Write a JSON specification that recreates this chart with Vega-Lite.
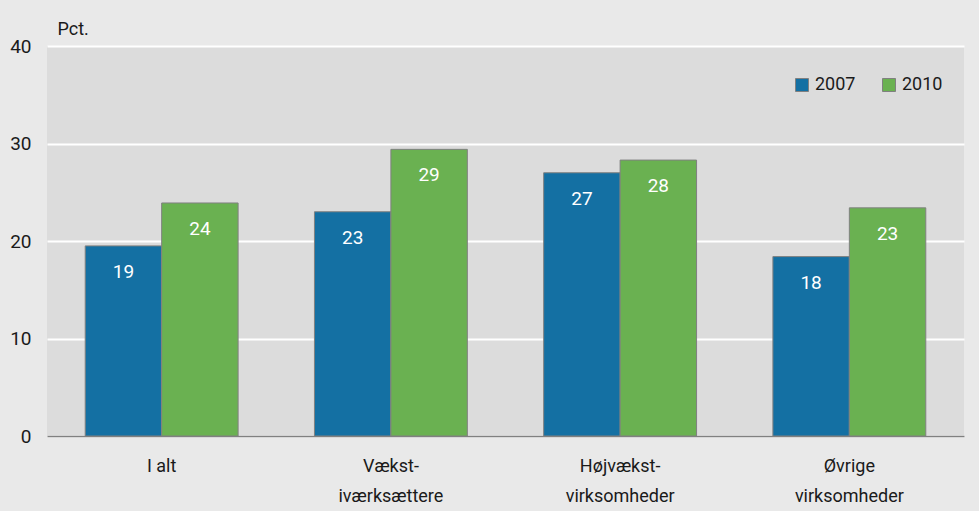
{
  "$schema": "https://vega.github.io/schema/vega-lite/v6.json",
  "autosize": {"type": "none"},
  "width": 917,
  "height": 390,
  "padding": {"left": 47, "top": 46, "right": 15, "bottom": 75},
  "background": "#e9e9e9",
  "config": {
    "font": "Roboto",
    "view": {"fill": "#dcdcdc", "stroke": null}
  },
  "data": {
    "values": [
      {"group": "I alt|", "year": "2007", "value": 19.5, "label": "19"},
      {"group": "I alt|", "year": "2010", "value": 23.9, "label": "24"},
      {"group": "Vækst-|iværksættere", "year": "2007", "value": 23.0, "label": "23"},
      {"group": "Vækst-|iværksættere", "year": "2010", "value": 29.4, "label": "29"},
      {"group": "Højvækst-|virksomheder", "year": "2007", "value": 27.0, "label": "27"},
      {"group": "Højvækst-|virksomheder", "year": "2010", "value": 28.3, "label": "28"},
      {"group": "Øvrige|virksomheder", "year": "2007", "value": 18.4, "label": "18"},
      {"group": "Øvrige|virksomheder", "year": "2010", "value": 23.4, "label": "23"}
    ]
  },
  "encoding": {
    "x": {
      "field": "group",
      "type": "nominal",
      "sort": null,
      "scale": {"paddingInner": 0.333, "paddingOuter": 0.1667},
      "axis": {
        "title": null,
        "labelAngle": 0,
        "labelExpr": "split(datum.label, '|')",
        "labelFontSize": 18,
        "labelColor": "#1a1a1a",
        "labelPadding": 21,
        "labelLineHeight": 30,
        "labelBaseline": "top",
        "ticks": false,
        "domainColor": "#808080",
        "domainWidth": 1.5
      }
    },
    "xOffset": {"field": "year", "type": "nominal", "scale": {"paddingInner": 0, "paddingOuter": 0}},
    "y": {
      "field": "value",
      "type": "quantitative",
      "scale": {"domain": [0, 40]},
      "axis": {
        "values": [0, 10, 20, 30, 40],
        "title": "Pct.",
        "titleAngle": 0,
        "titleX": 10,
        "titleY": -12,
        "titleAlign": "left",
        "titleBaseline": "alphabetic",
        "titleFontSize": 18,
        "titleFontWeight": "normal",
        "titleColor": "#1a1a1a",
        "labelFontSize": 19,
        "labelColor": "#1a1a1a",
        "labelPadding": 16,
        "ticks": false,
        "domain": false,
        "gridColor": "white",
        "gridWidth": 2
      }
    }
  },
  "layer": [
    {
      "mark": {"type": "bar", "stroke": "#808080", "strokeWidth": 1},
      "encoding": {
        "color": {
          "field": "year",
          "type": "nominal",
          "scale": {"domain": ["2007", "2010"], "range": ["#1470a3", "#6ab151"]},
          "legend": {
            "title": null,
            "orient": "none",
            "legendX": 746,
            "legendY": 30,
            "direction": "horizontal",
            "columns": 2,
            "columnPadding": 24,
            "symbolType": "square",
            "symbolSize": 169,
            "symbolStrokeColor": "#808080",
            "symbolStrokeWidth": 1,
            "labelFontSize": 18,
            "labelColor": "#1a1a1a",
            "labelOffset": 4
          }
        }
      }
    },
    {
      "mark": {"type": "text", "color": "white", "fontSize": 19, "baseline": "middle", "dy": 26},
      "encoding": {"text": {"field": "label"}}
    }
  ]
}
